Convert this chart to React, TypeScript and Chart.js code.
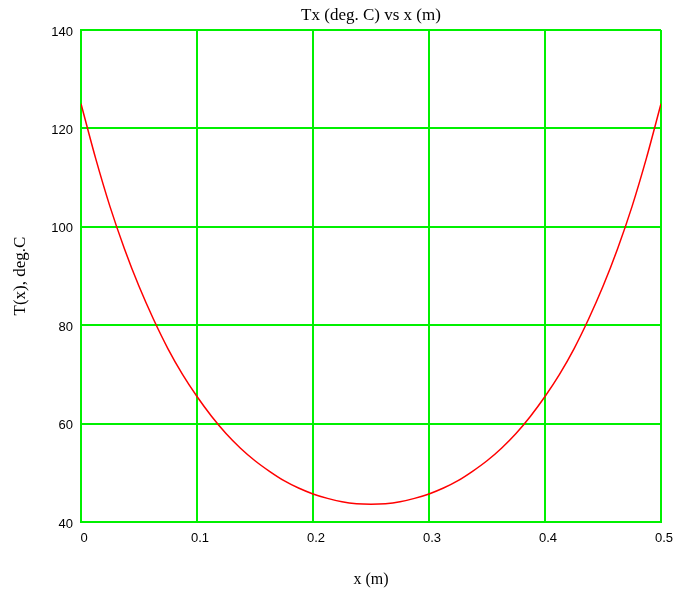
import React, { useEffect, useRef } from "react";
import { Chart, registerables } from "chart.js";

Chart.register(...registerables);

// Position along the rod (m)
const positions: number[] = [
  0, 0.0125, 0.025, 0.0375, 0.05, 0.0625, 0.075, 0.0875, 0.1, 0.1125,
  0.125, 0.1375, 0.15, 0.1625, 0.175, 0.1875, 0.2, 0.2125, 0.225, 0.2375,
  0.25, 0.2625, 0.275, 0.2875, 0.3, 0.3125, 0.325, 0.3375, 0.35, 0.3625,
  0.375, 0.3875, 0.4, 0.4125, 0.425, 0.4375, 0.45, 0.4625, 0.475, 0.4875, 0.5,
];

// Temperature T(x) in deg. C
const temperatures: number[] = [
  125, 114.0, 104.1, 95.5, 87.9, 81.2, 75.2, 70.0, 65.5, 61.5,
  58.0, 55.0, 52.45, 50.3, 48.4, 46.9, 45.7, 44.8, 44.1, 43.7,
  43.6, 43.7, 44.1, 44.8, 45.7, 46.9, 48.4, 50.3, 52.45, 55.0,
  58.0, 61.5, 65.5, 70.0, 75.2, 81.2, 87.9, 95.5, 104.1, 114.0, 125,
];

const xTickLabels: string[] = ["0", "0.1", "0.2", "0.3", "0.4", "0.5"];

const chartTitle = "Tx (deg. C) vs x (m)";
const xAxisTitle = "x (m)";
const yAxisTitle = "T(x), deg.C";

const GRID = "#00f000";
const SERIF = '"Liberation Serif", "Times New Roman", serif';

const titlesPlugin = {
  id: "plotTitles",
  afterDraw(chart: Chart) {
    const { ctx, chartArea } = chart;
    const cx = (chartArea.left + chartArea.right) / 2;
    const cy = (chartArea.top + chartArea.bottom) / 2;
    ctx.save();
    ctx.fillStyle = "#000";
    ctx.textAlign = "center";
    ctx.textBaseline = "middle";
    ctx.font = `17px ${SERIF}`;
    ctx.fillText(chartTitle, cx, 16);
    ctx.font = `16px ${SERIF}`;
    ctx.fillText(xAxisTitle, cx, 580);
    ctx.font = `17px ${SERIF}`;
    ctx.translate(21, cy);
    ctx.rotate(-Math.PI / 2);
    ctx.fillText(yAxisTitle, 0, 0);
    ctx.restore();
  },
};

export default function App() {
  const canvasRef = useRef<HTMLCanvasElement | null>(null);

  useEffect(() => {
    if (!canvasRef.current) return;
    const chart = new Chart(canvasRef.current, {
      type: "line",
      data: {
        datasets: [
          {
            data: positions.map((x, i) => ({ x, y: temperatures[i] })),
            borderColor: "#ff0000",
            borderWidth: 1.5,
            pointRadius: 0,
            tension: 0.3,
            fill: false,
          },
        ],
      },
      options: {
        animation: false,
        responsive: true,
        maintainAspectRatio: false,
        layout: { padding: { top: 30, right: 15, left: 0, bottom: 0 } },
        plugins: {
          legend: { display: false },
          tooltip: { enabled: false },
          title: { display: false },
        },
        scales: {
          x: {
            type: "linear",
            min: 0,
            max: 0.5,
            afterFit: (s: any) => {
              s.height = 70;
              s.paddingLeft = 0;
              s.paddingRight = 0;
            },
            ticks: {
              stepSize: 0.1,
              padding: 9,
              labelOffset: 3,
              color: "#000",
              font: { family: '"Liberation Sans", Arial, sans-serif', size: 13 },
              maxRotation: 0,
              callback: (_v: any, i: number) => xTickLabels[i],
            },
            grid: { color: GRID, lineWidth: 2, drawTicks: false },
            border: { color: GRID, width: 2 },
          },
          y: {
            min: 40,
            max: 140,
            afterFit: (s: any) => {
              s.width = 81;
              s.paddingTop = 0;
              s.paddingBottom = 0;
            },
            ticks: {
              stepSize: 20,
              padding: 8,
              labelOffset: 2,
              color: "#000",
              font: { family: '"Liberation Sans", Arial, sans-serif', size: 13 },
            },
            grid: { color: GRID, lineWidth: 2, drawTicks: false },
            border: { color: GRID, width: 2 },
          },
        },
      },
      plugins: [titlesPlugin],
    });
    return () => chart.destroy();
  }, []);

  return (
    <div
      style={{
        position: "fixed",
        left: 0,
        top: 0,
        width: 676,
        height: 592,
        background: "#fff",
      }}
    >
      <canvas ref={canvasRef} />
    </div>
  );
}
